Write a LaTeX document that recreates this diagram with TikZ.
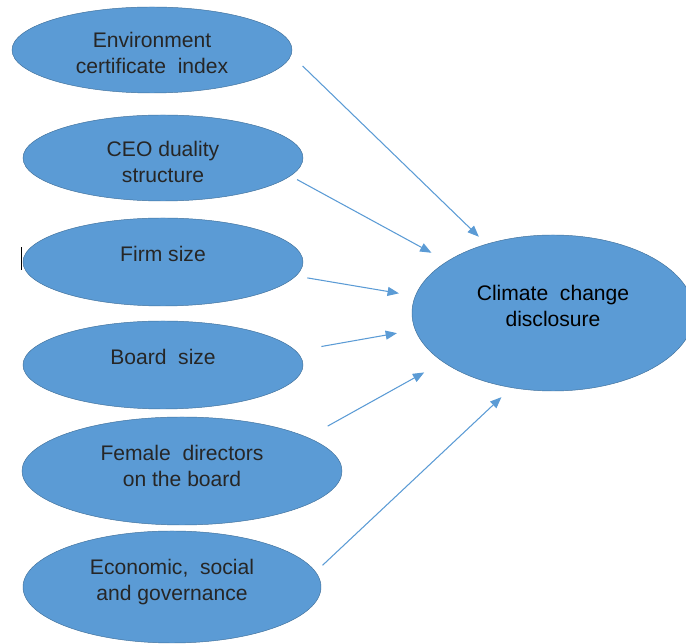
\documentclass[tikz,border=0pt]{standalone}
\usepackage{fontspec}
\setmainfont{Liberation Sans}
\usetikzlibrary{shapes.geometric, arrows.meta}
\definecolor{ovalblue}{HTML}{5B9BD5}
\definecolor{ovaledge}{HTML}{41719C}
\definecolor{ink}{HTML}{262626}
\tikzstyle{factor}=[ellipse, draw=ovaledge, line width=0.4pt, fill=ovalblue, inner sep=0pt, outer sep=0pt]
\tikzstyle{txt}=[align=center, text=ink, font=\fontsize{18}{21.5}\selectfont]
\tikzstyle{link}=[draw=ovalblue, line width=0.9pt, -{Triangle[length=0.34cm, width=0.27cm]}]
\newcommand{\factor}{\node[factor]}

\begin{document}
\begin{tikzpicture}[x=0.03cm, y=0.03cm]
\useasboundingbox (0,0) rectangle (686,644);
%outcome
\factor[minimum width=8.46cm, minimum height=4.68cm] (ccd) at (553,331){};
\node[txt, text=black] (ccdtxt) at (553,338){Climate\ \ change\\disclosure};
%factors
\factor[minimum width=8.4cm, minimum height=2.58cm] (env) at (152,594){};
\factor[minimum width=8.4cm, minimum height=2.58cm] (ceo) at (163,486){};
\factor[minimum width=8.4cm, minimum height=2.64cm] (firm) at (163,382){};
\factor[minimum width=8.4cm, minimum height=2.64cm] (board) at (163,279){};
\factor[minimum width=9.6cm, minimum height=3.24cm] (female) at (182,173){};
\factor[minimum width=8.94cm, minimum height=3.36cm] (econ) at (172,57){};
%labels
\node[txt] (envtxt) at (152,591){Environment\\certificate\ \ index};
\node[txt] (ceotxt) at (163,482){CEO duality\\structure};
\node[txt] (firmtxt) at (163,390){Firm size};
\node[txt] (boardtxt) at (163,287){Board\ \ size};
\node[txt] (femaletxt) at (182,178){Female\ \ directors\\on the board};
\node[txt] (econtxt) at (172,62){Economic,\ \ social\\and governance};
%cursor mark
\draw[line width=0.8pt] (21,374) -- (21,397);
%arrows
\draw[link, shorten <=0.48cm, shorten >=0.32cm] (env.-2) -- (ccd.134);
\draw[link, shorten <=0.23cm, shorten >=0.54cm] (ceo.-8) -- (ccd.154);
\draw[link, shorten <=0.35cm, shorten >=0.50cm] (firm.-6) -- (ccd.173);
\draw[link, shorten <=0.78cm, shorten >=0.56cm] (board.6) -- (ccd.187);
\draw[link, shorten <=0.70cm, shorten >=0.65cm] (female.15) -- (ccd.204);
\draw[link, shorten <=0.29cm, shorten >=0.42cm] (econ.6) -- (ccd.241);
\end{tikzpicture}
\end{document}
